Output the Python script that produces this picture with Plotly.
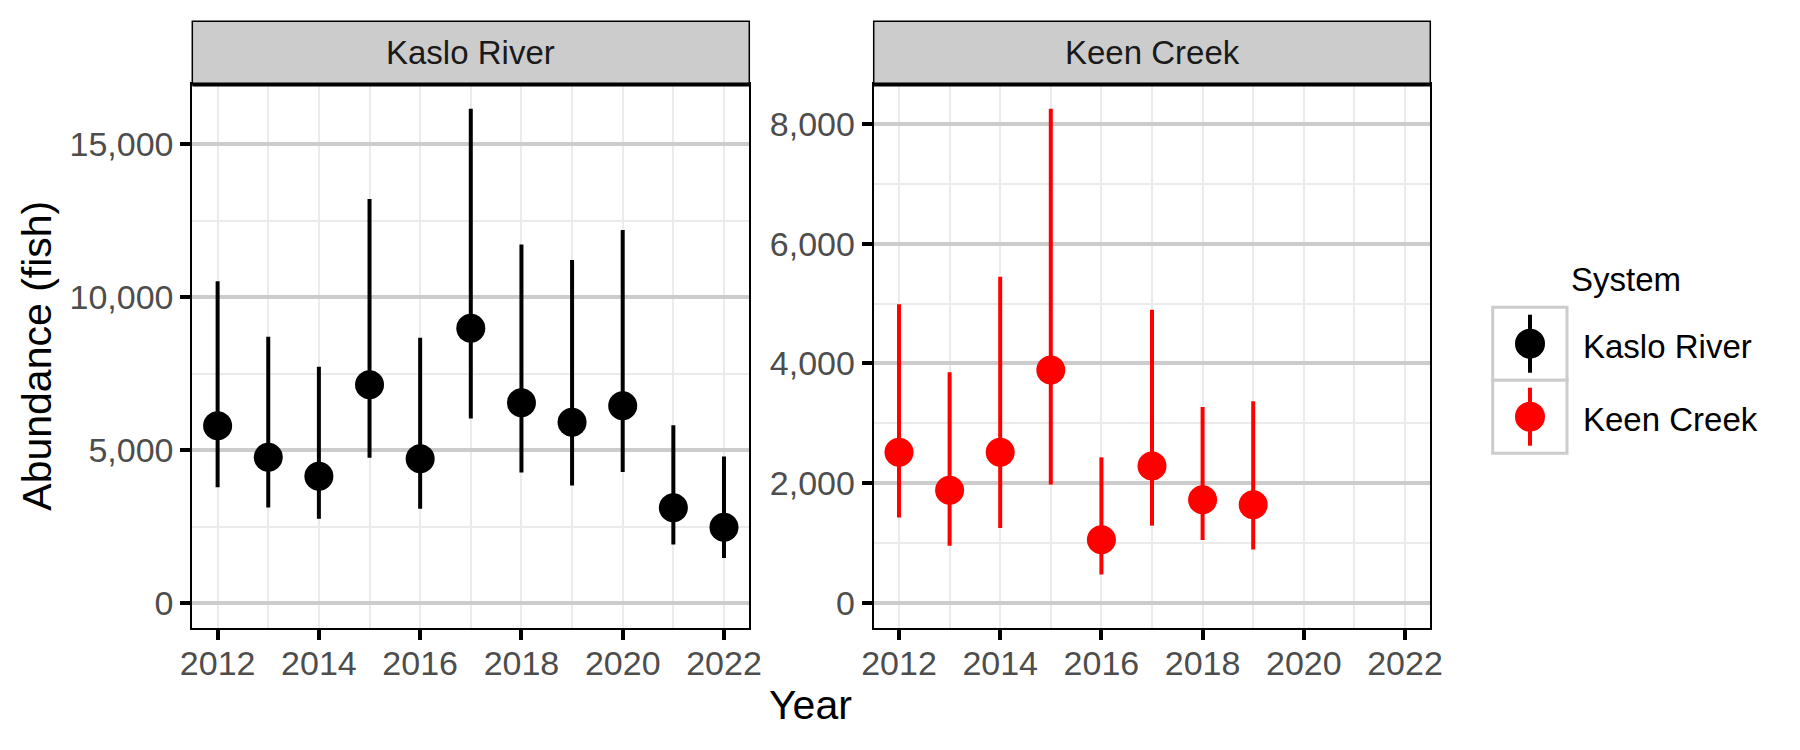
import plotly.graph_objects as go

years = [2012, 2013, 2014, 2015, 2016, 2017, 2018, 2019, 2020, 2021, 2022]
kaslo_est = [5800, 4770, 4150, 7140, 4720, 8980, 6550, 5910, 6450, 3120, 2480]
kaslo_lo = [3790, 3130, 2760, 4750, 3090, 6030, 4270, 3850, 4290, 1920, 1480]
kaslo_hi = [10520, 8700, 7720, 13200, 8670, 16150, 11720, 11210, 12190, 5810, 4790]

keen_years = [2012, 2013, 2014, 2015, 2016, 2017, 2018, 2019]
keen_est = [2520, 1885, 2520, 3890, 1060, 2290, 1725, 1645]
keen_lo = [1430, 960, 1255, 1980, 480, 1295, 1055, 895]
keen_hi = [4990, 3855, 5445, 8250, 2435, 4895, 3275, 3370]

systems = ["Kaslo River", "Keen Creek"]
colors = ["#000000", "#FF0000"]
x_ticks = [2012, 2014, 2016, 2018, 2020, 2022]

W, H = 1800, 750
def px(x): return x / W
def py(y): return 1 - y / H

FONT = "Liberation Sans, Arial, sans-serif"
TICK_SIZE = 34
fig = go.Figure()

series = [(years, kaslo_est, kaslo_lo, kaslo_hi), (keen_years, keen_est, keen_lo, keen_hi)]
for i, (yr, est, lo, hi) in enumerate(series):
    fig.add_trace(go.Scatter(
        x=yr, y=est, mode="markers", name=systems[i], showlegend=False,
        xaxis="x" if i == 0 else "x2", yaxis="y" if i == 0 else "y2",
        marker=dict(color=colors[i], size=29, line=dict(width=0)),
        error_y=dict(type="data", symmetric=False,
                     array=[h - e for h, e in zip(hi, est)],
                     arrayminus=[e - l for e, l in zip(est, lo)],
                     width=0, thickness=4, color=colors[i]),
    ))

xd = [[px(192.3), px(749.3)], [px(873.7), px(1430.3)]]
yd = [py(628), py(84)]

def xaxis(dom, anchor):
    return dict(domain=dom, anchor=anchor, range=[2011.5, 2022.5], automargin=False,
                tickvals=x_ticks, showgrid=False, zeroline=False,
                ticks="outside", ticklen=10, tickwidth=4, tickcolor="#000000",
                ticklabelstandoff=-6,
                tickfont=dict(family=FONT, size=TICK_SIZE, color="#4D4D4D"),
                showline=True, mirror=True, linecolor="#000000", linewidth=2,
                minor=dict(dtick=1, tick0=2011, showgrid=True, gridcolor="#EBEBEB",
                           gridwidth=1.5, ticks=""))

def yaxis(anchor, hi_max, dt):
    pad = 0.05 * hi_max
    return dict(domain=yd, anchor=anchor, range=[-pad, hi_max + pad], automargin=False,
                tick0=0, dtick=dt, tickformat=",d", zeroline=False,
                showgrid=True, gridcolor="#CCCCCC", gridwidth=3.5,
                ticks="outside", ticklen=10, tickwidth=4, tickcolor="#000000",
                tickfont=dict(family=FONT, size=TICK_SIZE, color="#4D4D4D"),
                showline=True, mirror=True, linecolor="#000000", linewidth=2,
                minor=dict(dtick=dt / 2, tick0=0, showgrid=True, gridcolor="#EBEBEB",
                           gridwidth=2, ticks=""))

shapes = []
annotations = []
for i, name in enumerate(systems):
    x0, x1 = xd[i]
    shapes.append(dict(type="rect", xref="paper", yref="paper", x0=x0, x1=x1,
                       y0=py(84), y1=py(21.3), fillcolor="#CCCCCC",
                       line=dict(color="#000000", width=1.5), layer="above"))
    shapes.append(dict(type="line", xref="paper", yref="paper", x0=x0, x1=x1,
                       y0=py(84.5), y1=py(84.5), line=dict(color="#000000", width=4), layer="above"))
    annotations.append(dict(text=name, xref="paper", yref="paper", x=(x0 + x1) / 2,
                            y=py(52.7), xanchor="center", yanchor="middle", showarrow=False,
                            font=dict(family=FONT, size=33, color="#1A1A1A")))

# axis titles
annotations.append(dict(text="Abundance (fish)", xref="paper", yref="paper", x=px(36.7),
                        y=(yd[0] + yd[1]) / 2, textangle=-90, showarrow=False,
                        xanchor="center", yanchor="middle",
                        font=dict(family=FONT, size=41, color="#000000")))
annotations.append(dict(text="Year", xref="paper", yref="paper", x=px(810), y=py(705),
                        showarrow=False, xanchor="center", yanchor="middle",
                        font=dict(family=FONT, size=41, color="#000000")))

# legend (manual, ggplot style)
annotations.append(dict(text="System", xref="paper", yref="paper", x=px(1569), y=py(279),
                        showarrow=False, xanchor="left", yanchor="middle",
                        font=dict(family=FONT, size=33, color="#000000")))
key_centers = [343.7, 416.7]
for i, name in enumerate(systems):
    cy = key_centers[i]
    shapes.append(dict(type="rect", xref="paper", yref="paper", x0=px(1492.7), x1=px(1567),
                       y0=py(cy + 36.5), y1=py(cy - 36.5), fillcolor="#FFFFFF",
                       line=dict(color="#CCCCCC", width=3)))
    shapes.append(dict(type="line", xref="paper", yref="paper", x0=px(1530), x1=px(1530),
                       y0=py(cy + 29), y1=py(cy - 29), line=dict(color=colors[i], width=4)))
    shapes.append(dict(type="circle", xref="paper", yref="paper", x0=px(1530 - 15), x1=px(1530 + 15),
                       y0=py(cy + 15), y1=py(cy - 15), fillcolor=colors[i], line=dict(width=0)))
    annotations.append(dict(text=name, xref="paper", yref="paper", x=px(1581), y=py(cy + 3),
                            showarrow=False, xanchor="left", yanchor="middle",
                            font=dict(family=FONT, size=33, color="#000000")))

fig.update_layout(
    width=W, height=H, autosize=False,
    margin=dict(l=0, r=0, t=0, b=0),
    paper_bgcolor="#FFFFFF", plot_bgcolor="#FFFFFF",
    xaxis=xaxis(xd[0], "y"), xaxis2=xaxis(xd[1], "y2"),
    yaxis=yaxis("x", max(kaslo_hi), 5000), yaxis2=yaxis("x2", max(keen_hi), 2000),
    shapes=shapes, annotations=annotations, showlegend=False,
)

fig.write_html("out.html")
